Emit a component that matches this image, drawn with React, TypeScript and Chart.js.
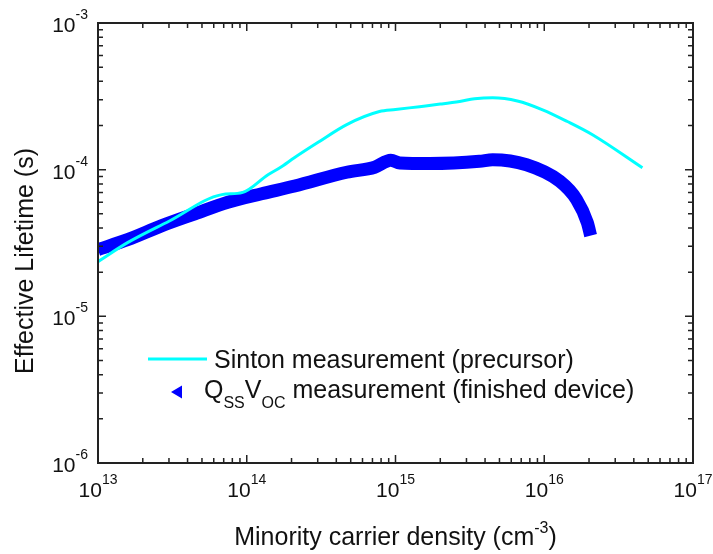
import React, { useEffect, useRef } from 'react';
import { Chart, registerables } from 'chart.js';

Chart.register(...registerables);

// Sinton measurement (precursor)
const sintonDensity = [1e13, 1.58e13, 3.0e13, 6.8e13, 9.3e13, 1.39e14, 1.67e14, 2.1e14, 3.0e14, 4.7e14, 7.8e14, 1.0e15, 1.45e15, 2.0e15, 2.7e15, 3.4e15, 4.5e15, 6.6e15, 9.75e15, 1.43e16, 2.11e16, 4.57e16];
const sintonLifetime = [2.36e-5, 3.18e-5, 4.45e-5, 6.76e-5, 6.97e-5, 9.24e-5, 1.03e-4, 1.21e-4, 1.53e-4, 2.03e-4, 2.49e-4, 2.57e-4, 2.69e-4, 2.8e-4, 2.92e-4, 3.04e-4, 3.09e-4, 2.94e-4, 2.56e-4, 2.13e-4, 1.73e-4, 1.03e-4];

// QssVoc measurement (finished device)
const qssDensity = [1e13, 1.58e13, 2.69e13, 4.48e13, 7.46e13, 1.26e14, 2.1e14, 4.7e14, 7.25e14, 9.3e14, 1.07e15, 1.7e15, 3.67e15, 4.5e15, 7.6e15, 1.27e16, 1.65e16, 1.95e16, 2.05e16];
const qssLifetime = [2.85e-5, 3.33e-5, 4.15e-5, 5.0e-5, 6.0e-5, 6.85e-5, 7.73e-5, 9.6e-5, 1.04e-4, 1.16e-4, 1.11e-4, 1.1e-4, 1.14e-4, 1.17e-4, 1.08e-4, 8.35e-5, 6.25e-5, 4.35e-5, 3.55e-5];

const xExponents = [13, 14, 15, 16, 17];
const yExponents = [-6, -5, -4, -3];

const legendLine1 = 'Sinton measurement (precursor)';
const legendLine2 = [
  { t: 'Q', sub: false },
  { t: 'SS', sub: true },
  { t: 'V', sub: false },
  { t: 'OC', sub: true },
  { t: ' measurement (finished device)', sub: false },
];
const xTitle = 'Minority carrier density (cm';
const xTitleSup = '-3';
const xTitleEnd = ')';
const yTitle = 'Effective Lifetime (s)';

const FONT = 'Arial, "Liberation Sans", Helvetica, sans-serif';
const CYAN = '#00FFFF';
const BLUE = '#0000FF';
const AXIS = '#222222';

const decorPlugin = {
  id: 'decor',
  afterDatasetsDraw(chart: any) {
    const { ctx, chartArea } = chart;
    const xs = chart.scales.x;
    const ys = chart.scales.y;
    const { left, right, top, bottom } = chartArea;
    ctx.save();
    ctx.strokeStyle = AXIS;
    ctx.lineWidth = 2;
    ctx.strokeRect(left, top, right - left, bottom - top);

    // ticks
    ctx.lineWidth = 1.5;
    ctx.beginPath();
    for (let e = xExponents[0]; e < xExponents[xExponents.length - 1]; e++) {
      for (let m = 1; m <= 9; m++) {
        const v = m * Math.pow(10, e);
        const px = xs.getPixelForValue(v);
        const len = m === 1 ? 8 : 5;
        if (m === 1 && e === xExponents[0]) continue;
        ctx.moveTo(px, bottom);
        ctx.lineTo(px, bottom - len);
        ctx.moveTo(px, top);
        ctx.lineTo(px, top + len);
      }
    }
    for (let e = yExponents[0]; e < yExponents[yExponents.length - 1]; e++) {
      for (let m = 1; m <= 9; m++) {
        const v = m * Math.pow(10, e);
        const py = ys.getPixelForValue(v);
        const len = m === 1 ? 8 : 5;
        if (m === 1 && e === yExponents[0]) continue;
        ctx.moveTo(left, py);
        ctx.lineTo(left + len, py);
        ctx.moveTo(right, py);
        ctx.lineTo(right - len, py);
      }
    }
    ctx.stroke();

    // tick labels
    ctx.fillStyle = '#111';
    ctx.textBaseline = 'alphabetic';
    const baseFont = `21px ${FONT}`;
    const supFont = `14px ${FONT}`;
    for (const e of xExponents) {
      const px = xs.getPixelForValue(Math.pow(10, e));
      ctx.font = baseFont;
      const w1 = ctx.measureText('10').width;
      ctx.font = supFont;
      const w2 = ctx.measureText(String(e)).width;
      const x0 = px - (w1 + w2) / 2;
      const by = bottom + 34;
      ctx.textAlign = 'left';
      ctx.font = baseFont;
      ctx.fillText('10', x0, by);
      ctx.font = supFont;
      ctx.fillText(String(e), x0 + w1, by - 13);
    }
    for (const e of yExponents) {
      const py = ys.getPixelForValue(Math.pow(10, e));
      ctx.font = supFont;
      const w2 = ctx.measureText(String(e)).width;
      const xr = left - 10;
      ctx.textAlign = 'right';
      ctx.fillText(String(e), xr, py - 4);
      ctx.font = baseFont;
      ctx.fillText('10', xr - w2, py + 9);
    }

    // axis titles
    const titleFont = `25px ${FONT}`;
    const titleSup = `16px ${FONT}`;
    ctx.font = titleFont;
    const tw1 = ctx.measureText(xTitle).width;
    const tw3 = ctx.measureText(xTitleEnd).width;
    ctx.font = titleSup;
    const tw2 = ctx.measureText(xTitleSup).width;
    const cx = (left + right) / 2;
    const tx = cx - (tw1 + tw2 + tw3) / 2;
    const tby = bottom + 82;
    ctx.textAlign = 'left';
    ctx.font = titleFont;
    ctx.fillText(xTitle, tx, tby);
    ctx.font = titleSup;
    ctx.fillText(xTitleSup, tx + tw1, tby - 12);
    ctx.font = titleFont;
    ctx.fillText(xTitleEnd, tx + tw1 + tw2, tby);

    ctx.save();
    ctx.translate(left - 65, (top + bottom) / 2 + 18);
    ctx.rotate(-Math.PI / 2);
    ctx.textAlign = 'center';
    ctx.font = titleFont;
    ctx.fillText(yTitle, 0, 0);
    ctx.restore();

    // legend
    ctx.strokeStyle = CYAN;
    ctx.lineWidth = 3;
    ctx.beginPath();
    ctx.moveTo(148, 359);
    ctx.lineTo(207, 359);
    ctx.stroke();
    ctx.fillStyle = '#111';
    ctx.font = `25px ${FONT}`;
    ctx.textAlign = 'left';
    ctx.fillText(legendLine1, 214, 368);

    ctx.fillStyle = BLUE;
    ctx.beginPath();
    ctx.moveTo(171, 392);
    ctx.lineTo(182, 385.5);
    ctx.lineTo(182, 398.5);
    ctx.closePath();
    ctx.fill();

    ctx.fillStyle = '#111';
    let lx = 204;
    const lby = 398;
    for (const seg of legendLine2) {
      ctx.font = seg.sub ? `16px ${FONT}` : `25px ${FONT}`;
      ctx.fillText(seg.t, lx, seg.sub ? lby + 10 : lby);
      lx += ctx.measureText(seg.t).width;
    }
    ctx.restore();
  },
};

export default function App() {
  const ref = useRef<HTMLCanvasElement | null>(null);
  useEffect(() => {
    document.body.style.margin = '0';
    const canvas = ref.current;
    if (!canvas) return;
    const chart = new Chart(canvas, {
      type: 'line',
      data: {
        datasets: [
          {
            label: 'Sinton measurement (precursor)',
            data: sintonDensity.map((x, i) => ({ x, y: sintonLifetime[i] })),
            borderColor: CYAN,
            backgroundColor: CYAN,
            borderWidth: 3,
            pointRadius: 0,
            cubicInterpolationMode: 'monotone',
            clip: 0,
          } as any,
          {
            label: 'QssVoc measurement (finished device)',
            data: qssDensity.map((x, i) => ({ x, y: qssLifetime[i] })),
            borderColor: BLUE,
            backgroundColor: BLUE,
            borderWidth: 13,
            borderJoinStyle: 'round',
            borderCapStyle: 'butt',
            pointRadius: 0,
            cubicInterpolationMode: 'monotone',
            clip: 0,
          } as any,
        ],
      },
      options: {
        animation: false,
        responsive: false,
        maintainAspectRatio: false,
        devicePixelRatio: 1,
        layout: { padding: { left: 98, top: 23, right: 20, bottom: 91 } },
        plugins: { legend: { display: false }, tooltip: { enabled: false } },
        scales: {
          x: { type: 'logarithmic', min: 1e13, max: 1e17, display: false },
          y: { type: 'logarithmic', min: 1e-6, max: 1e-3, display: false },
        },
      },
      plugins: [decorPlugin],
    });
    return () => chart.destroy();
  }, []);
  return (
    <div style={{ width: 713, height: 554, background: '#fff' }}>
      <canvas ref={ref} width={713} height={554} style={{ display: 'block' }} />
    </div>
  );
}
